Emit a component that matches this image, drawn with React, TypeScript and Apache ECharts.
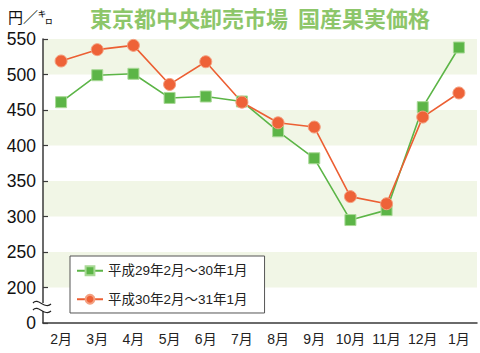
import React, { useEffect, useRef } from "react";
import * as echarts from "echarts";

const months = ["2月", "3月", "4月", "5月", "6月", "7月", "8月", "9月", "10月", "11月", "12月", "1月"];
const seriesNames = ["平成29年2月～30年1月", "平成30年2月～31年1月"];
const h29 = [461, 499, 501, 467, 469, 462, 420, 382, 295, 309, 454, 538];
const h30 = [519, 535, 541, 486, 518, 461, 432, 426, 328, 318, 440, 474];
const yTicks = { min: 150, max: 550, interval: 50 };
const titleText = "東京都中央卸売市場  国産果実価格";
const unitText = "円／㌔";

const FONT = '"Liberation Sans", Arial, "Noto Sans CJK JP", sans-serif';
const CJK = '"Noto Sans CJK JP", sans-serif';

export default function App() {
  const ref = useRef<HTMLDivElement>(null);
  useEffect(() => {
    if (!ref.current) return;
    const chart = echarts.init(ref.current, undefined, { renderer: "svg" });
    const axisColor = "#3a3a3a";
    chart.setOption({
      animation: false,
      backgroundColor: "#ffffff",
      grid: { left: 43, right: 3, top: 39, bottom: 30, containLabel: false },
      legend: {
        orient: "vertical",
        left: 70,
        top: 256,
        backgroundColor: "#ffffff",
        borderColor: "#555555",
        borderWidth: 1,
        padding: [8, 17, 7, 6],
        itemGap: 15,
        itemWidth: 26,
        itemHeight: 11,
        textStyle: { fontSize: 13.5, color: "#222", fontFamily: FONT },
        data: seriesNames,
      },
      xAxis: {
        type: "category",
        data: months,
        boundaryGap: true,
        axisLine: { lineStyle: { color: axisColor, width: 1.5 } },
        axisTick: { inside: true, length: 6, alignWithLabel: true, interval: 0, lineStyle: { color: axisColor, width: 1.2 } },
        axisLabel: { fontSize: 14, color: "#222", margin: 9, interval: 0, fontFamily: FONT },
        splitLine: { show: false },
      },
      yAxis: {
        type: "value",
        min: yTicks.min,
        max: yTicks.max,
        interval: yTicks.interval,
        axisLine: { show: true, lineStyle: { color: axisColor, width: 1.5 } },
        axisTick: { show: true, inside: true, length: 5, lineStyle: { color: axisColor, width: 1.2 } },
        axisLabel: {
          fontSize: 17.5,
          color: "#111",
          margin: 7,
          fontFamily: FONT,
          formatter: (v: number) => (v === yTicks.min ? "0" : String(v)),
        },
        splitLine: { show: false },
        splitArea: { show: true, areaStyle: { color: ["rgba(255,255,255,0)", "#f1f6e6"] } },
      },
      series: [
        {
          name: seriesNames[0],
          type: "line",
          data: h29,
          symbol: "rect",
          symbolSize: 11,
          lineStyle: { color: "#5cb547", width: 1.6 },
          itemStyle: { color: "#5cb547", borderColor: "#a9d996", borderWidth: 1 },
        },
        {
          name: seriesNames[1],
          type: "line",
          data: h30,
          symbol: "circle",
          symbolSize: 12,
          lineStyle: { color: "#ec5f33", width: 1.6 },
          itemStyle: { color: "#ee6238", borderColor: "#f4a080", borderWidth: 1 },
        },
      ],
      graphic: [
        {
          type: "text",
          left: 8,
          top: 9,
          style: { text: unitText, fontSize: 15, fill: "#111", fontFamily: CJK },
        },
        {
          type: "text",
          x: 260,
          y: 17,
          style: {
            text: titleText,
            fontSize: 22,
            fontWeight: "bold",
            fill: "#8dc66a",
            fontFamily: CJK,
            textAlign: "center",
            textVerticalAlign: "middle",
          },
        },
        {
          type: "rect",
          z: 100,
          shape: { x: 38, y: 303, width: 10, height: 8 },
          style: { fill: "#ffffff" },
        },
        {
          type: "bezierCurve",
          z: 101,
          shape: { x1: 33, y1: 303, cpx1: 38, cpy1: 297, cpx2: 45, cpy2: 310, x2: 51, y2: 304 },
          style: { stroke: "#222", lineWidth: 1.2, fill: null },
        },
        {
          type: "bezierCurve",
          z: 101,
          shape: { x1: 33, y1: 310, cpx1: 38, cpy1: 304, cpx2: 45, cpy2: 317, x2: 51, y2: 311 },
          style: { stroke: "#222", lineWidth: 1.2, fill: null },
        },
      ],
    });
    return () => chart.dispose();
  }, []);
  return <div ref={ref} style={{ width: 480, height: 353, position: "absolute", left: 0, top: 0 }} />;
}
